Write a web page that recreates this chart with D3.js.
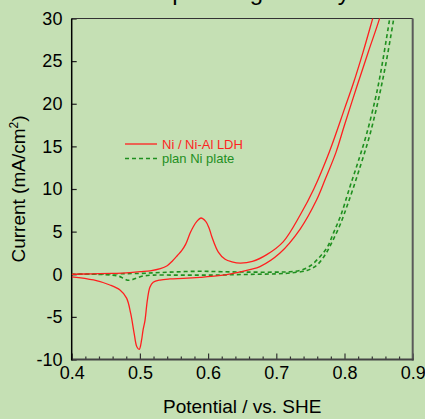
<!DOCTYPE html>
<html>
<head>
<meta charset="utf-8">
<script src="https://cdn.jsdelivr.net/npm/d3@7"></script>
<style>
  html, body { margin: 0; padding: 0; background: #c5e0b4; }
  svg { display: block; font-family: "Liberation Sans", Arial, sans-serif; }
</style>
</head>
<body>
<svg id="chart" width="425" height="419"></svg>
<script>
// ---- data (potential V vs. SHE, current mA/cm2) ----
const titleText = "Compressing stability";
const xLabel = "Potential / vs. SHE";
const yLabelMain = "Current (mA/cm";
const seriesNames = ["Ni / Ni-Al LDH", "plan Ni plate"];

const xTicks = [0.4, 0.5, 0.6, 0.7, 0.8, 0.9];
const yTicks = [-10, -5, 0, 5, 10, 15, 20, 25, 30];

// Ni / Ni-Al LDH, anodic sweep
const ldhFwdE = [0.40,0.43,0.46,0.48,0.50,0.515,0.53,0.54,0.547,0.555,0.5615,0.567,0.5735,0.5785,0.5835,0.5895,0.5965,0.6015,0.6055,0.615,0.625,0.635,0.647,0.665,0.686,0.71,0.735,0.755,0.778,0.80,0.813,0.827,0.841,0.852];
const ldhFwdI = [0.0,0.05,0.1,0.15,0.3,0.4,0.65,1.0,1.5,2.2,2.8,3.5,4.8,5.6,6.2,6.6,6.2,5.4,4.4,2.6,1.75,1.45,1.3,1.5,2.3,3.8,6.95,10.0,14.4,19.4,22.4,26.0,29.9,33];
// Ni / Ni-Al LDH, cathodic sweep
const ldhRevE = [0.862,0.851,0.835,0.818,0.80,0.7875,0.772,0.759,0.735,0.705,0.676,0.661,0.637,0.6125,0.588,0.5635,0.544,0.5295,0.5195,0.5148,0.511,0.5075,0.5045,0.5025,0.499,0.4955,0.4915,0.4865,0.4805,0.4708,0.456,0.432,0.40];
const ldhRevI = [33,29.9,26.1,22.0,17.5,14.3,11.2,8.7,5.3,2.46,0.9,0.55,0.1,-0.2,-0.36,-0.48,-0.55,-0.68,-0.95,-1.5,-3.0,-5.4,-6.6,-7.7,-8.8,-8.5,-6.9,-4.6,-2.8,-1.85,-1.26,-0.67,-0.3];

// plan Ni plate, anodic sweep
const niFwdE = [0.40,0.45,0.50,0.53,0.56,0.59,0.62,0.66,0.70,0.72,0.735,0.75,0.764,0.775,0.7836,0.795,0.8081,0.82,0.8326,0.845,0.852,0.8657,0.872];
const niFwdI = [0.0,0.05,0.1,0.2,0.3,0.35,0.3,0.25,0.25,0.3,0.45,1.0,2.06,3.2,4.8,7.0,10.3,13.2,16.5,20.5,23.2,29.7,33];
// plan Ni plate, cathodic sweep
const niRevE = [0.878,0.8716,0.857,0.838,0.8205,0.8055,0.7935,0.7825,0.7725,0.760,0.745,0.72,0.70,0.67,0.64,0.61,0.58,0.55,0.52,0.505,0.495,0.488,0.482,0.476,0.47,0.46,0.43,0.40];
const niRevI = [33,29.7,23.2,16.6,12.0,8.4,5.8,3.9,2.4,1.1,0.45,0.15,0.05,0.0,-0.05,-0.1,-0.1,-0.1,-0.1,-0.2,-0.45,-0.65,-0.7,-0.5,-0.25,-0.1,0.0,0.0];

// ---- layout ----
const svg = d3.select("#chart");
const x = d3.scaleLinear().domain([0.4, 0.9]).range([71.7, 412.7]);
const y = d3.scaleLinear().domain([-10, 30]).range([359.5, 18.5]);
const red = "#ff1f1f", green = "#1f8f1f";

svg.append("rect").attr("width", 425).attr("height", 419).attr("fill", "#c5e0b4");

// title, lying above the top edge as in the reference (only descenders show)
svg.append("text").attr("x", 121.7).attr("y", -0.5)
  .attr("font-size", 24).attr("fill", "#000").text(titleText);

svg.append("defs").append("clipPath").attr("id", "plotclip")
  .append("rect").attr("x", x(0.4)).attr("y", y(30))
  .attr("width", x(0.9) - x(0.4)).attr("height", y(-10) - y(30));

// axes
const xAxis = d3.axisBottom(x).tickValues(xTicks).tickSizeInner(-6).tickSizeOuter(0)
  .tickPadding(7.2).tickFormat(d3.format(".1f"));
const gx = svg.append("g").attr("transform", `translate(0,${y(-10)})`).call(xAxis);
const minorX = d3.range(0.42, 0.9, 0.02).filter(v => Math.abs(v * 10 - Math.round(v * 10)) > 1e-6);
const gxm = svg.append("g").attr("transform", `translate(0,${y(-10)})`)
  .call(d3.axisBottom(x).tickValues(minorX).tickSizeInner(-3).tickSizeOuter(0).tickFormat(""));

const yAxis = d3.axisLeft(y).tickValues(yTicks).tickSizeInner(-5).tickSizeOuter(0)
  .tickPadding(9.3).tickFormat(d => String(d));
const gy = svg.append("g").attr("transform", `translate(${x(0.4)},0)`).call(yAxis);

[gx, gxm, gy].forEach(g => {
  g.select(".domain").remove();
  g.selectAll("text").attr("font-size", 18).attr("fill", "#000")
    .attr("font-family", "Liberation Sans, Arial, sans-serif");
});
gx.selectAll(".tick line").attr("stroke", "#333").attr("stroke-width", 1.2);
gxm.selectAll(".tick line").attr("stroke", "#333").attr("stroke-width", 1.2);
gy.selectAll(".tick line").attr("stroke", "#222").attr("stroke-width", 1.2);

// frame
svg.append("line").attr("x1", x(0.4)).attr("x2", x(0.9)).attr("y1", y(30)).attr("y2", y(30))
  .attr("stroke", "#333").attr("stroke-width", 1.2);
svg.append("line").attr("x1", x(0.9)).attr("x2", x(0.9)).attr("y1", y(30)).attr("y2", y(-10) + 1)
  .attr("stroke", "#5a5a5a").attr("stroke-width", 2);
svg.append("line").attr("x1", x(0.4)).attr("x2", x(0.9) + 1).attr("y1", y(-10)).attr("y2", y(-10))
  .attr("stroke", "#444").attr("stroke-width", 2);
svg.append("line").attr("x1", x(0.4)).attr("x2", x(0.4)).attr("y1", y(30)).attr("y2", y(-10) + 1)
  .attr("stroke", "#000").attr("stroke-width", 1.5);

// curves
const line = d3.line().x(d => x(d[0])).y(d => y(d[1])).curve(d3.curveCatmullRom.alpha(0.5));
const plot = svg.append("g").attr("clip-path", "url(#plotclip)");
const branches = [
  { E: niFwdE, I: niFwdI, color: green, dash: "4,3", w: 1.6 },
  { E: niRevE, I: niRevI, color: green, dash: "4,3", w: 1.6 },
  { E: ldhFwdE, I: ldhFwdI, color: red, dash: null, w: 1.3 },
  { E: ldhRevE, I: ldhRevI, color: red, dash: null, w: 1.3 }
];
branches.forEach(b => {
  plot.append("path").datum(b.E.map((e, i) => [e, b.I[i]]))
    .attr("d", line).attr("fill", "none").attr("stroke", b.color)
    .attr("stroke-width", b.w).attr("stroke-dasharray", b.dash);
});

// legend
const leg = svg.append("g");
leg.append("line").attr("x1", 125).attr("x2", 157).attr("y1", 144).attr("y2", 144)
  .attr("stroke", red).attr("stroke-width", 1.3);
leg.append("text").attr("x", 162).attr("y", 149.3).attr("font-size", 13).attr("fill", red).text(seriesNames[0]);
leg.append("line").attr("x1", 125).attr("x2", 157).attr("y1", 158.5).attr("y2", 158.5)
  .attr("stroke", green).attr("stroke-width", 1.6).attr("stroke-dasharray", "4,3");
leg.append("text").attr("x", 162).attr("y", 163.3).attr("font-size", 13).attr("fill", green).text(seriesNames[1]);

// axis titles
svg.append("text").attr("x", (x(0.4) + x(0.9)) / 2).attr("y", 413)
  .attr("text-anchor", "middle").attr("font-size", 19).attr("fill", "#000").text(xLabel);
const yl = svg.append("text").attr("transform", "translate(24.5,189) rotate(-90)")
  .attr("text-anchor", "middle").attr("font-size", 19).attr("fill", "#000");
yl.append("tspan").text(yLabelMain);
yl.append("tspan").attr("font-size", 12).attr("dy", -7).text("2");
yl.append("tspan").attr("dy", 7).text(")");
</script>
</body>
</html>
